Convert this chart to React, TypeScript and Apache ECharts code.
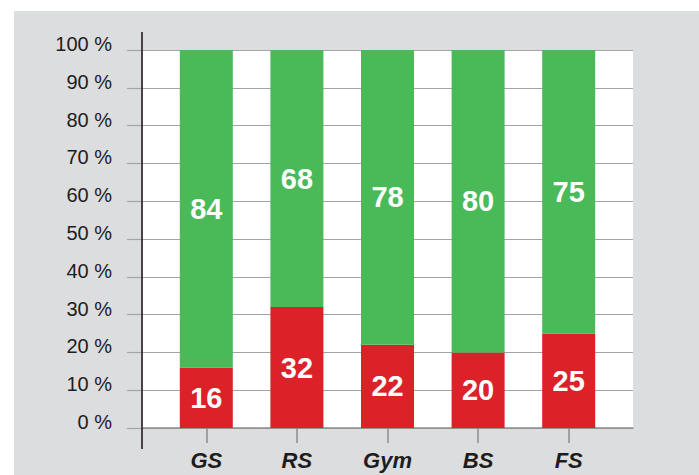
import React, { useEffect, useRef } from "react";
import * as echarts from "echarts";

const categories = ["GS", "RS", "Gym", "BS", "FS"];
const redValues = [16, 32, 22, 20, 25];
const greenValues = [84, 68, 78, 80, 75];
const yTicks = [0, 10, 20, 30, 40, 50, 60, 70, 80, 90, 100];

const FONT = "'Liberation Sans', Arial, Helvetica, sans-serif";

export default function App() {
  const ref = useRef<HTMLDivElement>(null);

  useEffect(() => {
    if (!ref.current) return;
    const chart = echarts.init(ref.current, null, { renderer: "svg" });
    const barLabel = {
      show: true,
      position: "inside",
      color: "#ffffff",
      fontFamily: FONT,
      fontWeight: "bold",
      fontSize: 29,
    };
    chart.setOption({
      animation: false,
      backgroundColor: "transparent",
      grid: [
        { left: 143, right: 66, top: 50, bottom: 47, show: true, backgroundColor: "#ffffff", borderWidth: 0 },
        { left: 161, right: 85, top: 50, bottom: 47 },
      ],
      xAxis: [
        {
          gridIndex: 0,
          type: "value",
          min: 0,
          max: 1,
          axisLine: { show: true, lineStyle: { color: "#8c8c8c", width: 1.5 } },
          axisTick: { show: false },
          axisLabel: { show: false },
          splitLine: { show: false },
        },
        {
          gridIndex: 1,
          type: "category",
          data: categories,
          axisLine: { show: false },
          axisTick: { show: true, alignWithLabel: true, length: 15, lineStyle: { color: "#8c8c8c", width: 1.5 } },
          axisLabel: {
            margin: 21,
            color: "#1e1c1d",
            fontFamily: FONT,
            fontSize: 22,
            fontWeight: "bold",
            fontStyle: "italic",
          },
        },
      ],
      yAxis: [
        {
          gridIndex: 0,
          type: "value",
          min: yTicks[0],
          max: yTicks[yTicks.length - 1],
          interval: 10,
          axisLine: { show: false },
          axisTick: { show: true, inside: false, length: 16, lineStyle: { color: "#a4a4a4", width: 1.2 } },
          splitLine: { show: true, lineStyle: { color: "#a4a4a4", width: 1.2 } },
          axisLabel: {
            margin: 31,
            color: "#1e1c1d",
            fontFamily: FONT,
            fontSize: 20,
            verticalAlign: "bottom",
            lineHeight: 12,
            formatter: (v: number) => `${v} %`,
          },
        },
        {
          gridIndex: 1,
          type: "value",
          min: 0,
          max: 100,
          show: false,
        },
      ],
      graphic: [
        {
          type: "line",
          z: 100,
          shape: { x1: 142, y1: 32, x2: 142, y2: 449 },
          style: { stroke: "#231f20", lineWidth: 1.6 },
        },
      ],
      series: [
        {
          type: "bar",
          stack: "total",
          xAxisIndex: 1,
          yAxisIndex: 1,
          barWidth: 53,
          data: redValues,
          itemStyle: { color: "#dc2128" },
          label: barLabel,
        },
        {
          type: "bar",
          stack: "total",
          xAxisIndex: 1,
          yAxisIndex: 1,
          barWidth: 53,
          data: greenValues,
          itemStyle: { color: "#4ab958" },
          label: barLabel,
        },
      ],
    });
    return () => chart.dispose();
  }, []);

  return (
    <div style={{ position: "fixed", left: 0, top: 0, width: 699, height: 475, background: "#ffffff" }}>
      <div style={{ position: "absolute", left: 14, top: 11, width: 685, height: 464, background: "#dcdddf" }} />
      <div ref={ref} style={{ position: "absolute", left: 0, top: 0, width: 699, height: 475 }} />
    </div>
  );
}
